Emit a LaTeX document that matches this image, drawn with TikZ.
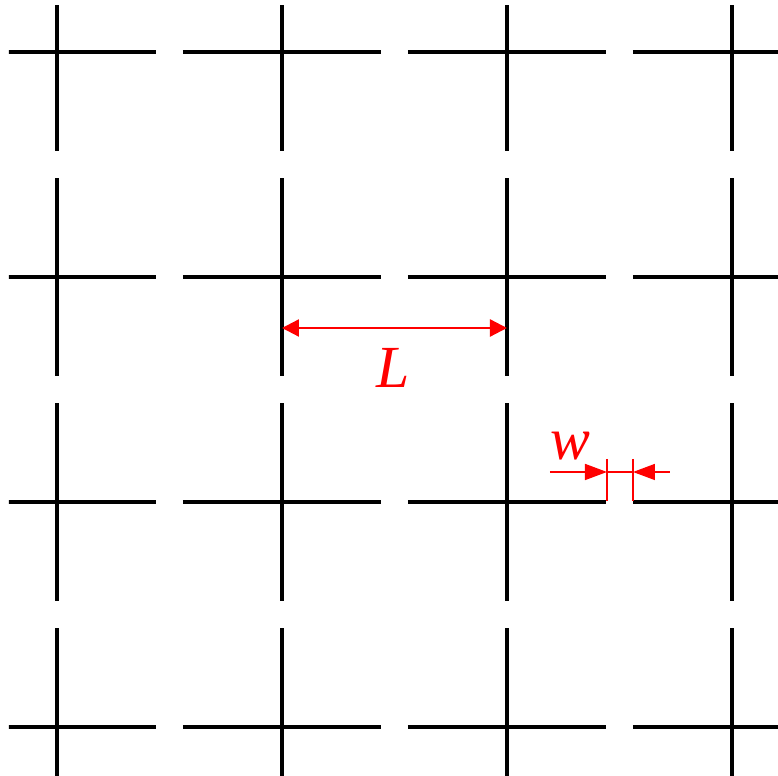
\documentclass[tikz,border=0pt]{standalone}
\usepackage{fontspec}
\setmainfont{Liberation Serif}
\usetikzlibrary{arrows.meta,calc}

\begin{document}
\begin{tikzpicture}

	\tikzset{bar/.style={line width=1.2pt,black}}
	\tikzset{dim/.style={red,line width=0.65pt}}
	\tikzset{ext/.style={red,line width=0.45pt}}
	\tikzset{lbl/.style={red,font=\fontsize{17}{20}\selectfont\itshape}}

	\useasboundingbox (0,0) rectangle (7.78,7.76);

	\def\pitch{2.25}
	\def\arm{0.99}

	% crosses
	\begin{scope}
		\clip (0.09,0) rectangle (7.78,7.70);
		\foreach \i in {0,1,2,3} {
			\foreach \j in {0,1,2,3} {
				\coordinate (c-\i-\j) at (0.57+\i*\pitch,7.24-\j*\pitch);
				\draw[bar] ($(c-\i-\j)+(-\arm,0)$) -- ($(c-\i-\j)+(\arm,0)$);
				\draw[bar] ($(c-\i-\j)+(0,-\arm)$) -- ($(c-\i-\j)+(0,\arm)$);
			}
		}
	\end{scope}

	% L
	\coordinate (la) at (2.82,4.48); \coordinate (lb) at (5.07,4.48);
	\draw[dim,{Triangle[length=1.7mm,width=1.7mm]}-{Triangle[length=1.7mm,width=1.7mm]}] (la) -- (lb);
	\node[lbl] (lab-L) at (3.93,4.08) {L};

	% w
	\coordinate (wa) at (6.07,3.04); \coordinate (wb) at (6.33,3.04);
	\coordinate (wl) at (5.50,3.04); \coordinate (wr) at (6.70,3.04);
	\draw[ext] (6.07,3.17) -- (6.07,2.75);
	\draw[ext] (6.33,3.17) -- (6.33,2.75);
	\draw[ext] (wa) -- (wb);
	\draw[ext,-{Triangle[length=2.2mm,width=1.6mm]}] (wl) -- (wa);
	\draw[ext,-{Triangle[length=2.2mm,width=1.6mm]}] (wr) -- (wb);
	\node[lbl] (lab-w) at (5.70,3.30) {w};

\end{tikzpicture}
\end{document}
